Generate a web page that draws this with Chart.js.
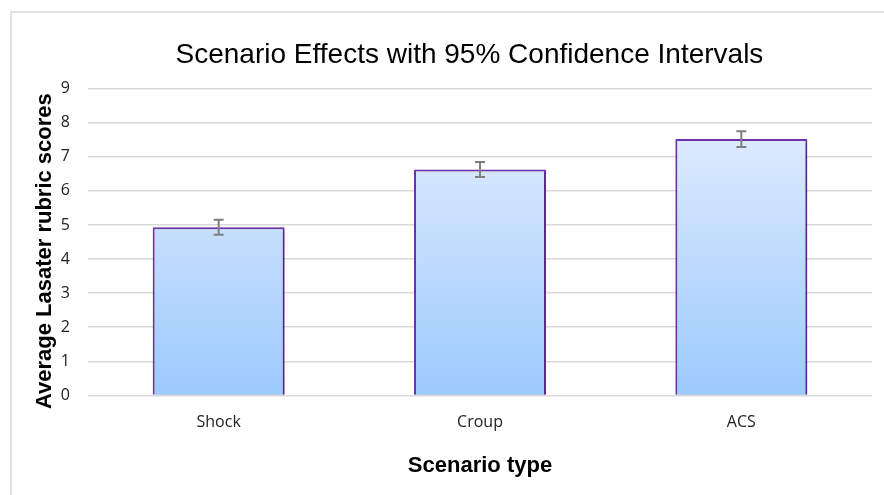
<!DOCTYPE html>
<html>
<head>
<meta charset="utf-8">
<script src="https://cdn.jsdelivr.net/npm/chart.js@4.4.0/dist/chart.umd.min.js"></script>
<style>
  html, body { margin: 0; padding: 0; background: #fff; }
  #wrap { position: relative; width: 884px; height: 495px; }
</style>
</head>
<body>
<div id="wrap"><canvas id="scoreChart" width="884" height="495"></canvas></div>
<script>
        const categories = ['Shock', 'Croup', 'ACS'];
        const meanScores = [4.93, 6.63, 7.52];
        const ciHalfWidth = [0.22, 0.22, 0.23];
        const yTicks = [0, 1, 2, 3, 4, 5, 6, 7, 8, 9];

        // light frame around the whole chart
        const framePlugin = {
            id: 'frame',
            beforeDraw(chart) {
                const ctx = chart.ctx;
                ctx.save();
                ctx.strokeStyle = '#d9d9d9';
                ctx.lineWidth = 1.5;
                ctx.strokeRect(11, 12, 900, 500);
                ctx.restore();
            }
        };

        // soft shadow under the bars
        const shadowPlugin = {
            id: 'barShadow',
            beforeDatasetsDraw(chart) {
                const ctx = chart.ctx;
                ctx.save();
                ctx.shadowColor = 'rgba(0, 0, 0, 0.28)';
                ctx.shadowBlur = 4;
                ctx.shadowOffsetX = 2;
                ctx.shadowOffsetY = 2;
            },
            afterDatasetsDraw(chart) {
                chart.ctx.restore();
            }
        };

        // 95% CI whiskers
        const errorBarPlugin = {
            id: 'errorBars',
            afterDatasetsDraw(chart) {
                const ctx = chart.ctx;
                const yScale = chart.scales.y;
                const meta = chart.getDatasetMeta(0);
                ctx.save();
                ctx.strokeStyle = '#7f7f7f';
                ctx.lineWidth = 2;
                meta.data.forEach((bar, i) => {
                    const x = bar.x;
                    const hi = yScale.getPixelForValue(meanScores[i] + ciHalfWidth[i]);
                    const lo = yScale.getPixelForValue(meanScores[i] - ciHalfWidth[i]);
                    ctx.beginPath();
                    ctx.moveTo(x, hi); ctx.lineTo(x, lo);
                    ctx.moveTo(x - 5, hi); ctx.lineTo(x + 5, hi);
                    ctx.moveTo(x - 5, lo); ctx.lineTo(x + 5, lo);
                    ctx.stroke();
                });
                ctx.restore();
            }
        };

        function barGradient(context) {
            const area = context.chart.chartArea;
            if (!area) return '#c0dcfd';
            const yScale = context.chart.scales.y;
            const g = context.chart.ctx.createLinearGradient(0, yScale.getPixelForValue(8), 0, area.bottom);
            g.addColorStop(0, '#e0ecfd');
            g.addColorStop(1, '#9ccafe');
            return g;
        }

        const ctx = document.getElementById('scoreChart').getContext('2d');
        const scoreChart = new Chart(ctx, {
            type: 'bar',
            data: {
                labels: categories,
                datasets: [{
                    data: meanScores,
                    backgroundColor: barGradient,
                    borderColor: '#7232b0',
                    borderWidth: 2,
                    categoryPercentage: 1,
                    barPercentage: 0.505
                }]
            },
            options: {
                responsive: false,
                animation: false,
                layout: { padding: { left: 28, right: 12, top: 0, bottom: 6 } },
                plugins: {
                    legend: { display: false },
                    tooltip: { enabled: false },
                    title: {
                        display: true,
                        // leading spaces nudge the centred title to the right like the original
                        text: '     Scenario Effects with 95% Confidence Intervals',
                        color: '#000',
                        font: { family: 'Liberation Sans', size: 28, weight: 'normal' },
                        padding: { top: 38, bottom: 17 }
                    }
                },
                scales: {
                    y: {
                        min: 0,
                        max: 9,
                        afterBuildTicks: s => { s.ticks = yTicks.map(v => ({ value: v })); },
                        afterFit: s => { s.width = 60; },
                        border: { display: false },
                        grid: { color: '#d9d9d9', lineWidth: 1.5, drawTicks: false },
                        ticks: {
                            color: '#222',
                            padding: 18,
                            font: { family: 'Open Sans', size: 16 }
                        },
                        title: {
                            display: true,
                            text: 'Average Lasater rubric scores   ',
                            color: '#000',
                            font: { family: 'Liberation Sans', size: 22, weight: 'bold' },
                            padding: { top: 4, bottom: 0 }
                        }
                    },
                    x: {
                        border: { display: false },
                        grid: { display: false },
                        ticks: {
                            color: '#222',
                            padding: 9,
                            font: { family: 'Open Sans', size: 16 }
                        },
                        title: {
                            display: true,
                            text: 'Scenario type',
                            color: '#000',
                            font: { family: 'Liberation Sans', size: 22, weight: 'bold' },
                            padding: { top: 12, bottom: 10 }
                        }
                    }
                }
            },
            plugins: [framePlugin, shadowPlugin, errorBarPlugin]
        });
</script>
</body>
</html>
